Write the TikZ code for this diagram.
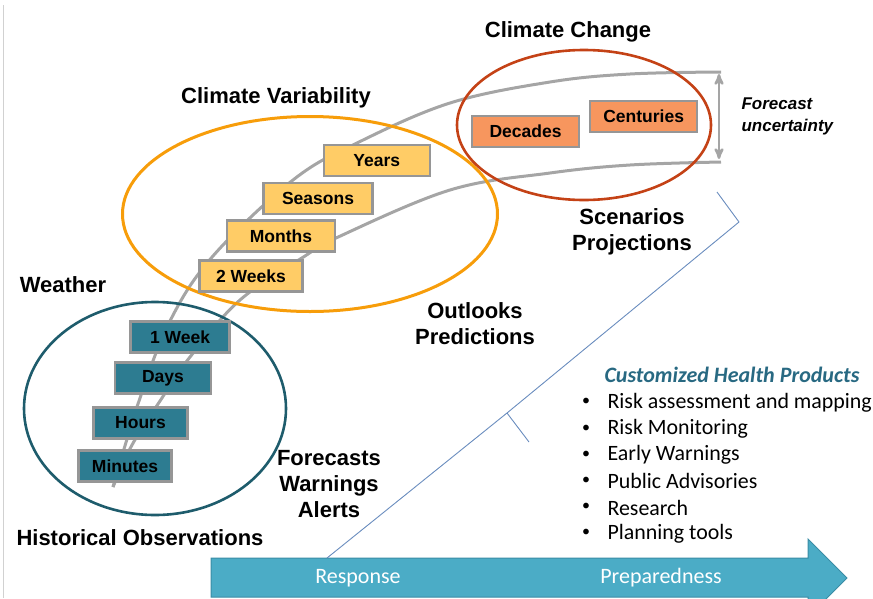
\documentclass[tikz,border=0pt]{standalone}
\usepackage{fontspec}
\setmainfont{Liberation Sans}
\newfontfamily\calibri{Carlito}
\usepackage{tikz}
\usetikzlibrary{
  arrows,
  shapes.geometric,
  positioning
}
\definecolor{weatherteal}{RGB}{45,124,145}
\definecolor{weatherdark}{RGB}{30,92,108}
\definecolor{varyellow}{RGB}{255,204,102}
\definecolor{varorange}{RGB}{247,157,10}
\definecolor{changesalmon}{RGB}{247,150,94}
\definecolor{changered}{RGB}{196,66,22}
\definecolor{boxgray}{RGB}{150,150,150}
\definecolor{curvegray}{RGB}{165,165,165}
\definecolor{arrowblue}{RGB}{75,172,198}
\definecolor{arrowedge}{RGB}{58,140,165}
\definecolor{bracketblue}{RGB}{105,140,190}
\definecolor{healthteal}{RGB}{40,105,130}

\begin{document}
\begin{tikzpicture}[
      x=1pt, y=-1pt,
      box/.style={
         rectangle,
         minimum height=31pt,
         inner sep=0pt,
         line width=2.2pt,
         draw=boxgray,
         font=\fontsize{17.5}{19}\selectfont\bfseries
      },
      weatherbox/.style={box, fill=weatherteal},
      varbox/.style={box, fill=varyellow},
      changebox/.style={box, fill=changesalmon},
      timering/.style={
         ellipse,
         inner sep=0pt,
         line width=2.6pt
      },
      heading/.style={
         font=\fontsize{22}{26}\selectfont\bfseries,
         align=center
      },
      band/.style={draw=curvegray, line width=3pt},
      uncert/.style={<->, >=stealth', draw=curvegray, line width=2.5pt},
      brace line/.style={draw=bracketblue, line width=0.9pt, line join=round},
      listitem/.style={anchor=west, font=\calibri\fontsize{21.9}{24}\selectfont},
      arrowtext/.style={text=white, font=\calibri\fontsize{22}{24}\selectfont}
    ]
    \useasboundingbox (0,0) rectangle (873,598);
    \draw[black!18, line width=1pt] (3,5) -- (3,598);

    % time axis arrow, cut by the page edge
    \begin{scope}
      \clip (0,0) rectangle (873,598);
      \draw[fill=arrowblue, draw=arrowedge, line width=1pt]
        (211,558) -- (808,558) -- (808,539) -- (847,578) -- (808,617)
        -- (808,597) -- (211,597) -- cycle;
    \end{scope}
    \node (rs) [arrowtext] at (358,578) {Response};
    \node (pr) [arrowtext] at (661,578) {Preparedness};

    % brace
    \draw[brace line] (327,558) -- (507,413) -- (739,222) -- (717,192);
    \draw[brace line] (507,413) -- (529,442);

    % uncertainty band
    \draw[band] plot[smooth, tension=0.6] coordinates {
      (113,487) (139,401) (170,321) (213,256) (293,180) (357,143)
      (450,103) (550,82) (630,74) (721,72)};
    \draw[band] plot[smooth, tension=0.6] coordinates {
      (113,487) (132,445) (160,401) (190,357) (240,300) (305,256)
      (336,238) (450,190) (550,173) (630,165) (721,162)};
    \coordinate (u1) at (719,74);
    \coordinate (u2) at (719,159);
    \draw[uncert] (u1) -- (u2);

    \node (e1) [timering, draw=weatherdark, minimum width=262pt, minimum height=213pt] at (155,408.5) {};
    \node (e2) [timering, draw=varorange, line width=3pt, minimum width=375pt, minimum height=195pt] at (310,214) {};
    \node (e3) [timering, draw=changered, minimum width=254pt, minimum height=150pt] at (584,125) {};

    \node (n11) [weatherbox, minimum width=93pt] at (125,466) {Minutes};
    \node (n12) [weatherbox, minimum width=94pt] at (140.5,423) {Hours};
    \node (n13) [weatherbox, minimum width=96pt] at (163,378) {Days};
    \node (n14) [weatherbox, minimum width=99pt] at (180,337) {1 Week};
    \node (n21) [varbox, minimum width=103pt] at (251,276) {2 Weeks};
    \node (n22) [varbox, minimum width=108pt] at (281,236) {Months};
    \node (n23) [varbox, minimum width=109pt] at (318,198.5) {Seasons};
    \node (n24) [varbox, minimum width=106pt] at (376.7,160.3) {Years};
    \node (n31) [changebox, minimum width=107pt] at (525.5,131.3) {Decades};
    \node (n32) [changebox, minimum width=107pt] at (643.7,116.7) {Centuries};

    \node (cc) [heading] at (568,32) {Climate Change};
    \node (cv) [heading] at (276,98) {Climate Variability};
    \node (wx) [heading] at (63,285) {Weather};
    \node (ho) [heading] at (140,538) {Historical Observations};
    \node (op) [heading] at (475,324) {Outlooks\\Predictions};
    \node (sp) [heading] at (632,232) {Scenarios\\Projections};
    \node (fw) [heading] at (329,484) {Forecasts\\Warnings\\Alerts};
    \node (fu) [anchor=west, align=left, font=\fontsize{17}{22}\selectfont\bfseries\itshape] at (738,116) {Forecast\\uncertainty};

    \node (ch) [anchor=west, text=healthteal, font=\calibri\fontsize{22}{24}\selectfont\bfseries\itshape] at (601,375) {Customized Health Products};
    \foreach \txt [count=\i] in {Risk assessment and mapping, Risk Monitoring, Early Warnings, Public Advisories, Research, Planning tools} {
      \node (b\i) [font=\calibri\fontsize{16}{18}\selectfont] at (586,376+26.2*\i) {\textbullet};
      \node (t\i) [listitem] at (604,376.5+26.2*\i) {\txt};
    }
\end{tikzpicture}
\end{document}
